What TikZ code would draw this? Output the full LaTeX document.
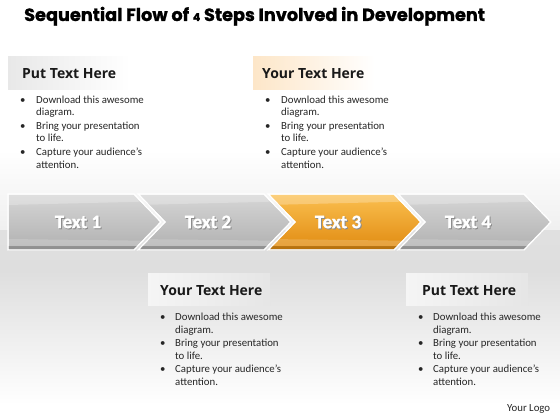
\documentclass[tikz,border=0pt]{standalone}
\usepackage{fontspec}
\setmainfont{Carlito}
\newfontfamily\titlefont[BoldFeatures={FakeBold=1.2}]{Poppins}
\newfontfamily\headfont{Open Sans}
\newfontfamily\lblfont[FakeBold=1.2]{Carlito Bold}
\definecolor{gtop}{HTML}{D6D6D6}
\definecolor{gmid}{HTML}{C8C8C8}
\definecolor{gbot}{HTML}{B0B0B0}
\definecolor{otop}{HTML}{FBC050}
\definecolor{omid}{HTML}{F6A526}
\definecolor{obot}{HTML}{E08A10}
\definecolor{peach}{HTML}{FDE6C8}
\tikzset{
  head/.style={font=\headfont\bfseries\fontsize{14}{16}\selectfont, anchor=base west, inner sep=0pt, text=black!90},
  btxt/.style={font=\fontsize{10.8}{12}\selectfont, anchor=base west, inner sep=0pt, text=black!85},
  lbl/.style={font=\lblfont\fontsize{19}{22}\selectfont, text=white, inner sep=0pt},
  lblsh/.style={font=\lblfont\fontsize{19}{22}\selectfont, text=black!45, inner sep=0pt},
  graychev/.style={top color=gtop, middle color=gmid, bottom color=gbot, draw=white, line width=1.2pt},
  orangechev/.style={top color=otop, middle color=omid, bottom color=obot, draw=white, line width=1.2pt},
}
\newcommand\mylist[4]{%
  \foreach \t [count=\k from 0] in {Download this awesome, diagram., Bring your presentation, to life., Capture your audience’s, attention.} {
    \pgfmathsetmacro\yy{#4+13*\k}
    \node[btxt] (#1-\k) at (#3,\yy) {\t};
    \ifodd\k\else \node[btxt] (#1-b\k) at (#2,\yy) {\textbullet};\fi
  }%
}
\newcommand\chevpath[2]{% x0, first?
  \ifnum#2=1
    (#1,194) -- (#1+126,194) -- (#1+153,222) -- (#1+126,250) -- (#1,250) -- cycle
  \else
    (#1,194) -- (#1+126,194) -- (#1+153,222) -- (#1+126,250) -- (#1,250) -- (#1+27,222) -- cycle
  \fi}
\newcommand\chev[4]{% x0, first, style, label
  \begin{scope}
    \clip \chevpath{#1}{#2};
    \fill[#3] \chevpath{#1}{#2};
    \fill[white,opacity=0.25] (#1,194) -- (#1+160,194) -- (#1+160,201) -- (#1,205) -- cycle;
    \fill[white,opacity=0.18] (#1,239) -- (#1+160,241) -- (#1+160,246) -- (#1,246) -- cycle;
    \fill[black,opacity=0.18] (#1,246) rectangle (#1+160,250);
  \end{scope}
  \draw[white,line width=1.2pt] \chevpath{#1}{#2};
  \node[lblsh] at (#1+71,223) {#4};
  \node[lbl] (lbl-#4) at (#1+70,222) {#4};
}
\begin{document}
\begin{tikzpicture}[x=1pt,y=-1pt]
\useasboundingbox (0,0) rectangle (560,420);
\fill[white] (0,0) rectangle (560,420);
% background band
\fill[top color=white, bottom color=black!6] (0,150) rectangle (560,230);
\fill[top color=black!12, bottom color=black!13] (0,230) rectangle (560,270);
\fill[top color=black!13, bottom color=white] (0,270) rectangle (560,405);
% title
\node[font=\titlefont\bfseries\fontsize{17.7}{20}\selectfont, anchor=base west, inner sep=0pt] (title) at (24,21)
  {Sequential Flow of {\fontsize{11}{12}\selectfont 4} Steps Involved in Development};
% header boxes
\fill[left color=black!9, right color=white] (8,57) rectangle (130,90);
\node[head] (h1) at (22,78) {Put Text Here};
\fill[left color=peach, right color=white] (253,57) rectangle (375,90);
\node[head] (h2) at (262,78) {Your Text Here};
\fill[left color=black!4, right color=black!10] (148,273) rectangle (270,305);
\node[head] (h3) at (160,295) {Your Text Here};
\fill[left color=black!4, right color=black!10] (406,273) rectangle (528,305);
\node[head] (h4) at (422,295) {Put Text Here};
% lists
\mylist{l1}{20}{36}{103}
\mylist{l2}{265}{281}{103}
\mylist{l3}{160}{175}{320}
\mylist{l4}{418}{433}{320}
% chevrons
\chev{398}{0}{graychev}{Text 4}
\chev{268}{0}{orangechev}{Text 3}
\chev{138}{0}{graychev}{Text 2}
\chev{8}{1}{graychev}{Text 1}
% logo
\node[btxt] (logo) at (507,411) {Your Logo};
\end{tikzpicture}
\end{document}
